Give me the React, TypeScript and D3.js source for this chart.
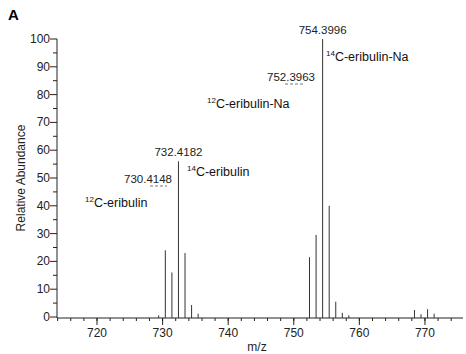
import * as d3 from "d3";
import { useEffect, useRef } from "react";

// Mass spectrum peaks (m/z, relative abundance %)
const PEAK_MZ = [
  729.4, 730.4148, 731.42, 732.4182, 733.42, 734.42, 735.42,
  752.3963, 753.4, 754.3996, 755.4, 756.4, 757.4, 758.4,
  768.4, 769.4, 770.4, 771.4,
];
const PEAK_INT = [
  0.6, 24, 16, 56, 23, 4.3, 1.2,
  21.5, 29.5, 100, 40, 5.5, 1.5, 0.6,
  2.5, 1, 2.8, 1.2,
];

const Y_TICKS = [0, 10, 20, 30, 40, 50, 60, 70, 80, 90, 100];
const X_TICKS = [720, 730, 740, 750, 760, 770];

// Peak annotations: [m/z anchor, label]
const MZ_LABELS: [number, string][] = [
  [732.4182, "732.4182"],
  [754.3996, "754.3996"],
];

export default function App() {
  const svgRef = useRef<SVGSVGElement>(null);
  const width = 466;
  const height = 354;

  useEffect(() => {
    if (!svgRef.current) return;
    const svg = d3.select(svgRef.current);
    svg.selectAll("*").remove();

    const font = "'Liberation Sans', Arial, sans-serif";
    const x = d3.scaleLinear().domain([713.9, 775.8]).range([57, 463]);
    const y = d3.scaleLinear().domain([0, 100]).range([317, 39]);
    const base = y(0) + 1;

    // panel letter
    svg.append("text")
      .attr("x", 8).attr("y", 20)
      .attr("font-family", font).attr("font-weight", "bold").attr("font-size", 15)
      .text("A");

    // y axis
    svg.append("line")
      .attr("x1", 57).attr("x2", 57).attr("y1", y(100)).attr("y2", base)
      .attr("stroke", "#222");
    d3.range(0, 101, 5).forEach((v) => {
      const major = v % 10 === 0;
      svg.append("line")
        .attr("x1", major ? 50 : 53).attr("x2", 57)
        .attr("y1", y(v)).attr("y2", y(v))
        .attr("stroke", "#222");
    });
    svg.selectAll(".yt").data(Y_TICKS).enter().append("text")
      .attr("x", 50).attr("y", (d) => y(d) + 4)
      .attr("text-anchor", "end")
      .attr("font-family", font).attr("font-size", 12).attr("fill", "#222")
      .text((d) => d);

    // x axis
    svg.append("line")
      .attr("x1", 57).attr("x2", 463).attr("y1", base).attr("y2", base)
      .attr("stroke", "#222");
    d3.range(714, 776, 2).forEach((v) => {
      svg.append("line")
        .attr("x1", x(v)).attr("x2", x(v))
        .attr("y1", base).attr("y2", base + 3)
        .attr("stroke", "#222");
    });
    svg.selectAll(".xt").data(X_TICKS).enter().append("line")
      .attr("x1", (d) => x(d)).attr("x2", (d) => x(d))
      .attr("y1", base).attr("y2", base + 7)
      .attr("stroke", "#222");
    svg.selectAll(".xl").data(X_TICKS).enter().append("text")
      .attr("x", (d) => x(d)).attr("y", 337)
      .attr("text-anchor", "middle")
      .attr("font-family", font).attr("font-size", 12).attr("fill", "#222")
      .text((d) => d);

    // peaks
    svg.selectAll(".pk").data(PEAK_MZ).enter().append("line")
      .attr("x1", (d) => x(d)).attr("x2", (d) => x(d))
      .attr("y1", base)
      .attr("y2", (d, i) => y(PEAK_INT[i]))
      .attr("stroke", "#333").attr("stroke-width", 1);

    // m/z labels above peaks
    MZ_LABELS.forEach(([mz, lab]) => {
      const i = PEAK_MZ.indexOf(mz);
      svg.append("text")
        .attr("x", x(mz)).attr("y", y(PEAK_INT[i]) - 5)
        .attr("text-anchor", "middle")
        .attr("font-family", font).attr("font-size", 11.5).attr("fill", "#222")
        .text(lab);
    });

    // offset m/z labels with dashed leader
    const offLabel = (tx: number, ty: number, lab: string, dx1: number, dx2: number) => {
      svg.append("text")
        .attr("x", tx).attr("y", ty)
        .attr("text-anchor", "end")
        .attr("font-family", font).attr("font-size", 11.5).attr("fill", "#222")
        .text(lab);
      svg.append("line")
        .attr("x1", tx - dx1).attr("x2", tx - dx2)
        .attr("y1", ty + 3).attr("y2", ty + 3)
        .attr("stroke", "#777").attr("stroke-dasharray", "3,2");
    };
    offLabel(315, 81, "752.3963", 30, 10);
    offLabel(172, 183, "730.4148", 22, 5);

    // isotope species labels
    const species = (tx: number, ty: number, sup: string, lab: string) => {
      const t = svg.append("text")
        .attr("x", tx).attr("y", ty)
        .attr("font-family", font).attr("font-size", 12.5).attr("fill", "#111");
      t.append("tspan").attr("font-size", 8).attr("dy", -5).text(sup);
      t.append("tspan").attr("dy", 5).text(lab);
    };
    species(326, 61, "14", "C-eribulin-Na");
    species(207, 108, "12", "C-eribulin-Na");
    species(187, 176, "14", "C-eribulin");
    species(85, 207, "12", "C-eribulin");

    // axis titles
    svg.append("text")
      .attr("transform", `translate(25,178) rotate(-90)`)
      .attr("text-anchor", "middle")
      .attr("font-family", font).attr("font-size", 12).attr("fill", "#222")
      .text("Relative Abundance");
    svg.append("text")
      .attr("x", 257).attr("y", 351)
      .attr("text-anchor", "middle")
      .attr("font-family", font).attr("font-size", 12).attr("fill", "#222")
      .text("m/z");
  }, []);

  return (
    <svg
      ref={svgRef}
      width={width}
      height={height}
      style={{ position: "absolute", left: 0, top: 0, background: "#fff" }}
    />
  );
}
